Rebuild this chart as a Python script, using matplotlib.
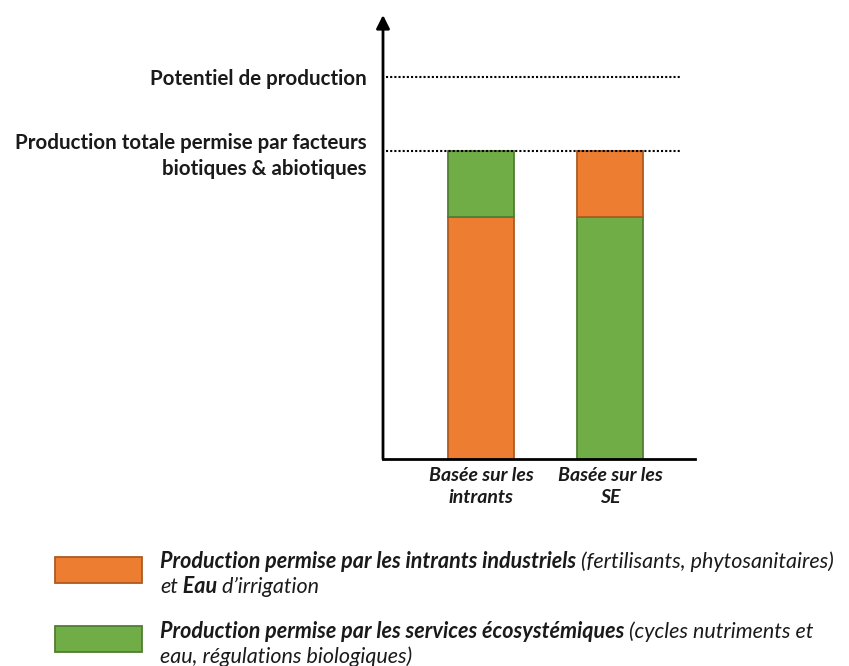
import matplotlib.pyplot as plt
from matplotlib.patches import Rectangle

plt.rcParams['font.family'] = ['Lato', 'DejaVu Sans']

# data (relative units, total production = 100)
categories = ["Basée sur les\nintrants", "Basée sur les\nSE"]
intrants = [78.6, 21.4]
services = [21.4, 78.6]
levels = [100, 124]
level_labels = ["Production totale permise par facteurs\nbiotiques & abiotiques",
                "Potentiel de production"]

orange, orange_edge = "#ED7D31", "#AE5A21"
green, green_edge = "#70AD47", "#507E32"
txt = "#1a1a1a"

W, H = 849, 666
fig = plt.figure(figsize=(W/100, H/100), dpi=100)
ax = fig.add_axes([383/W, (H-459)/H, (695-383)/W, (459-15)/H])

x = [0, 1]
bw = 0.51
# first bar: intrants at the bottom, second bar: services at the bottom
ax.bar(x[0], intrants[0], width=bw, color=orange, edgecolor=orange_edge, lw=1.3)
ax.bar(x[0], services[0], bottom=intrants[0], width=bw, color=green, edgecolor=green_edge, lw=1.3)
ax.bar(x[1], services[1], width=bw, color=green, edgecolor=green_edge, lw=1.3)
ax.bar(x[1], intrants[1], bottom=services[1], width=bw, color=orange, edgecolor=orange_edge, lw=1.3)

xmin, xmax = -0.757, 1.653
ax.set_xlim(xmin, xmax)
ax.set_ylim(0, 144)
ax.hlines(levels, xmin + 0.02, 1.537, colors="black", linestyles=(0, (1, 1)), lw=1.5)

for s in ["top", "right", "left"]:
    ax.spines[s].set_visible(False)
ax.spines["bottom"].set_linewidth(2)
ax.annotate("", xy=(0, 1), xytext=(0, 0), xycoords="axes fraction",
            arrowprops=dict(arrowstyle="-|>", color="black", lw=2,
                            mutation_scale=20, shrinkA=0, shrinkB=0))

ax.set_yticks(levels, level_labels, fontweight="bold", fontsize=14.8, color=txt,
              linespacing=1.4)
ax.tick_params(axis="y", length=0, pad=12)
ax.set_xticks(x, categories, fontweight="bold", style="italic", fontsize=14, color=txt,
              linespacing=1.35)
ax.tick_params(axis="x", length=0, pad=6)

# legend
fs = 15.5
for y0, col, ec in [(583, orange, orange_edge), (652, green, green_edge)]:
    fig.add_artist(Rectangle((55/W, 1 - y0/H), 87/W, 26/H, transform=fig.transFigure,
                             facecolor=col, edgecolor=ec, lw=1.3))

def chain(parts, xpix, ypix):
    prev = None
    for s, bold in parts:
        w = "bold" if bold else "normal"
        if prev is None:
            prev = fig.text(xpix/W, 1 - ypix/H, s, fontsize=fs, style="italic",
                            fontweight=w, va="center", ha="left", color=txt)
        else:
            prev = ax.annotate(s, xy=(1, 0), xycoords=prev, va="bottom", ha="left",
                               fontsize=fs, style="italic", fontweight=w,
                               color=txt, annotation_clip=False)

chain([("Production permise par les intrants industriels", True),
       (" (fertilisants, phytosanitaires)", False)], 160, 562)
chain([("et", False), (" Eau", True), (" d\u2019irrigation", False)], 160, 587)
chain([("Production permise par les services écosystémiques", True),
       (" (cycles nutriments et", False)], 160, 632)
chain([("eau, régulations biologiques)", False)], 160, 657)

fig.savefig("out.png", dpi=100)
